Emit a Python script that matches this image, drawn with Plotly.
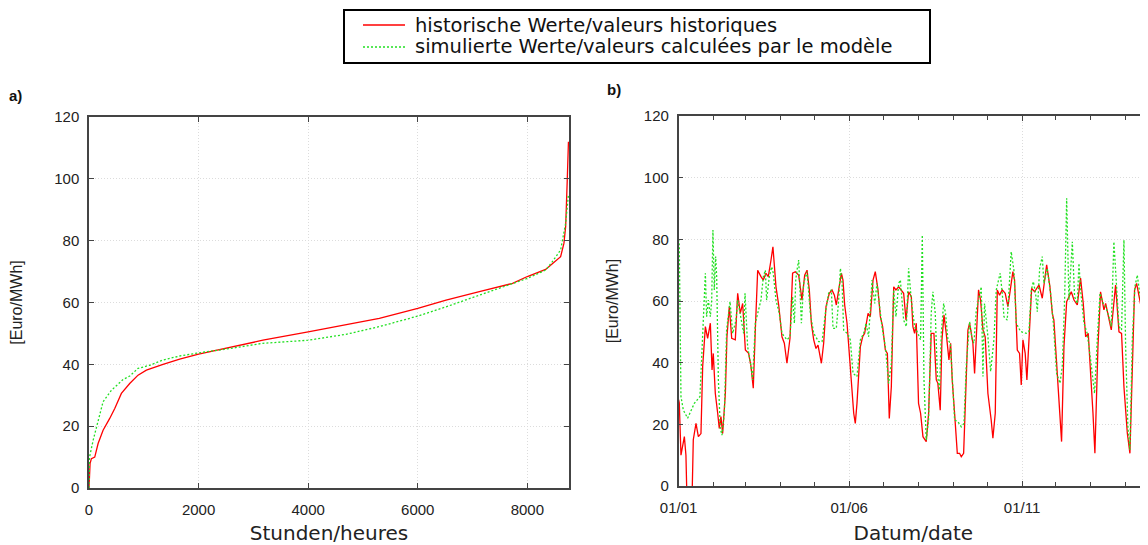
import pandas as pd
import plotly.graph_objects as go

# ---------------- data: panel a (price duration curve) ----------------
hours_hist = [0, 20, 44, 105, 166, 257, 378, 470, 591, 743, 895, 1047, 1351, 1655, 2000, 2566, 3174,
              4000, 4874, 5298, 6000, 6516, 7124, 7730, 8000, 8334, 8456, 8607, 8668, 8699, 8729, 8750]
price_hist = [0, 8, 9.5, 10, 14.4, 18.7, 22.5, 25.7, 30.6, 33.8, 36.5, 38.1, 40, 41.7, 43.3, 45.5, 47.8,
              50.5, 53.5, 54.9, 58.1, 60.8, 63.5, 66.2, 68.4, 70.7, 72.5, 74.8, 79.2, 84.6, 100, 112]
hours_sim = [0, 10, 75, 135, 257, 409, 622, 743, 895, 1108, 1351, 1655, 2000, 2566, 3174, 4000, 4690,
             5298, 6000, 6516, 7124, 7730, 8000, 8334, 8456, 8607, 8699, 8729, 8750]
price_sim = [0, 10, 15.4, 19.8, 27.9, 31.6, 35.1, 36.2, 38.7, 39.7, 41.4, 42.7, 43.7, 45.1, 46.8, 47.8, 49.7,
             52.2, 55.6, 58.6, 62.4, 66, 67.8, 70.5, 73.2, 77, 85.6, 91, 95]

# ---------------- data: panel b (time series, days after 01/01) ----------------
start_date = "2006-01-01"
days_hist = [0, 0.6, 2.1, 5.1, 6.5, 7.5, 11.8, 13.0, 15.4, 17.5, 19.8, 21.3, 23.7, 25.7, 28.1, 29.6, 30.7,
             32.5, 34.6, 36.0, 37.5, 39.0, 41.4, 42.8, 44.9, 47.0, 50.2, 52.3, 54.6, 56.7, 59.1, 62.0, 64.1,
             66.1, 67.9, 70.0, 72.9, 75.0, 77.3, 79.4, 81.8, 83.5, 86.2, 88.6, 91.5, 93.6, 95.9, 98.6, 100.9,
             103.3, 106.3, 109.2, 111.6, 113.7, 115.7, 117.5, 119.6, 121.6, 123.4, 126.4, 128.4, 130.5, 133.4,
             135.8, 137.9, 139.6, 141.7, 144.1, 145.5, 147.0, 149.1, 151.1, 152.9, 155.0, 156.4, 157.9, 160.9,
             162.9, 164.7, 167.7, 169.7, 172.1, 174.1, 176.5, 178.6, 180.6, 183.0, 184.8, 186.5, 188.3, 190.4,
             192.4, 194.8, 197.2, 199.2, 201.3, 203.6, 206.0, 207.4, 208.9, 210.4, 212.4, 214.2, 216.3, 219.2,
             221.3, 223.6, 226.0, 228.1, 229.5, 231.6, 233.1, 234.9, 236.9, 239.3, 240.8, 242.2, 244.3, 246.7,
             248.7, 250.2, 252.3, 254.6, 256.1, 257.6, 260.5, 262.0, 263.5, 265.5, 267.3, 269.4, 271.4, 273.8,
             276.7, 278.2, 280.3, 282.1, 284.1, 286.5, 289.1, 291.5, 293.6, 295.9, 297.4, 299.8, 301.8, 303.3,
             304.8, 306.8, 308.3, 310.1, 312.5, 315.1, 319.0, 321.9, 325.8, 328.7, 330.8, 332.2, 335.2, 337.3,
             339.0, 341.1, 343.5, 347.6, 350.0, 352.9, 355.8, 358.2, 360.3, 362.6, 364.7, 366.8, 368.5, 371.2,
             373.5, 376.5, 378.0, 380.9, 383.0, 386.8, 389.8, 392.1, 394.2, 397.2, 399.5, 401.6, 403.6, 405.4,
             407.5, 410.4, 413.4, 415.4]
value_hist = [28, 27, 10, 16, 10, -6, -6, 15, 20.3, 16, 17, 38.7, 51.7, 47.9, 52.8, 37.6, 43,
              30, 23.6, 18.7, 22.5, 17, 30, 48.4, 58.2, 47.9, 47.4, 62.5, 56, 59.2, 44.1, 43, 38.7,
              31.7, 50.6, 70, 67.9, 66.8, 69, 67.9, 73.3, 77.6, 64.6, 58.7, 48.4, 46.3, 39.8, 47.9, 69,
              69.5, 68.4, 60.3, 68.4, 70, 63.6, 52.8, 47.4, 44.6, 45.7, 39.8, 46.3, 58.2, 62.5,
              63.6, 61.9, 58.7, 63.6, 69, 66.8, 58.7, 52.8, 41.9, 34.4, 23.6, 20.3, 26.8, 45.2,
              48.4, 49.5, 56, 54.9, 66.8, 69.5, 63.6, 54.9, 51.7, 44.1, 43, 21.9, 32.2, 64.6,
              63.6, 64.6, 63.6, 62.5, 53.8, 63, 61.4, 51.7, 49.5, 52.8, 26.8, 23.6, 16, 14.4,
              23.6, 49.5, 49.5, 34.4, 33.3, 24.6, 47.4, 55.5, 49.5, 40.9, 46.3, 34.4, 23.6, 10.6,
              10.6, 9.5, 10.6, 36.5, 50.6, 52.8, 46.3, 36.5, 47.4, 63.6, 60.3, 50.6, 48.4, 30,
              21.4, 15.5, 23.6, 63.6, 61.9, 63.6, 62.5, 58.2, 63.6, 69.5, 66.8, 44.1, 43, 32.8,
              47.4, 43, 34.4, 49.5, 64.1, 63, 65.2, 60.9, 71.7, 64.6, 56, 53.8, 35.5, 23.6,
              14.4, 45.2, 59.8, 63, 60.3, 58.7, 67.4, 59.2, 48.4, 49.5, 37.6, 23.6, 10.6, 45.2,
              63, 57.1, 59.2, 53.8, 50.6, 65.2, 50, 49.5, 32.2, 17.1, 10.6, 37.6, 63.6, 65.7,
              61.9, 56, 50.6, 57.1]
days_sim = [0, 0.6, 2.1, 4.2, 8.0, 11.0, 13.9, 18.9, 21.3, 23.7, 24.8, 26.3, 28.1, 29.3, 30.4, 31.6, 32.8,
            33.7, 35.2, 36.9, 38.4, 40.5, 42.5, 45.5, 47.9, 50.8, 52.3, 55.2, 57.6, 58.8, 61.1, 64.1, 65.5,
            67.9, 70.9, 72.9, 75.0, 76.8, 77.9, 80.3, 82.4, 83.8, 86.2, 89.1, 91.5, 93.6, 95.9, 98.6, 100.9,
            102.5, 103.7, 104.8, 106.3, 108.7, 110.7, 113.7, 116.6, 119.6, 124.0, 127.0, 129.9, 132.8, 135.2,
            136.7, 139.6, 141.7, 143.2, 144.6, 146.1, 149.1, 152.0, 154.4, 157.9, 160.9, 163.8, 165.9, 168.2,
            171.2, 173.6, 175.6, 177.7, 180.0, 183.0, 185.9, 188.3, 190.4, 192.4, 194.8, 196.3, 199.2, 201.6,
            203.6, 206.0, 208.9, 211.8, 214.2, 215.7, 217.2, 219.2, 221.3, 223.6, 225.1, 227.2, 229.0, 231.0,
            232.5, 234.6, 236.3, 238.4, 240.5, 242.2, 244.3, 247.2, 250.2, 252.6, 254.6, 257.6, 259.9, 261.4,
            263.5, 265.5, 267.9, 269.4, 270.8, 273.8, 276.2, 279.1, 281.2, 283.2, 284.7, 286.5, 288.0, 290.9,
            293.0, 294.4, 296.8, 298.9, 302.7, 307.7, 310.1, 312.2, 314.0, 316.0, 317.5, 319.6, 321.9, 323.4,
            326.3, 329.3, 331.7, 334.6, 337.6, 339.6, 341.7, 343.5, 345.5, 347.0, 348.5, 350.5, 352.9, 354.4,
            355.8, 358.8, 361.7, 364.7, 368.2, 370.6, 373.0, 375.9, 378.0, 380.9, 383.0, 385.3, 387.7, 389.8,
            392.1, 394.2, 395.7, 397.7, 399.5, 401.6, 403.9, 406.0, 408.4, 411.3, 414.3, 415.5]
value_sim = [80, 78.2, 29, 24.6, 22, 24.6, 26.8, 29, 48.4, 69, 54.9, 60.3, 54.9, 60.3, 83, 63.6, 74.4,
             67.9, 34.4, 18.7, 16.5, 23.6, 50.6, 59.8, 49.5, 53.8, 60.3, 54.9, 49.5, 62.5, 45.2, 38.7, 34.4,
             52.8, 57.1, 60.3, 67.9, 70, 60.3, 67.9, 71.1, 69, 60.3, 56, 49.5, 48.4, 47.4, 48.4, 61.4,
             52.8, 66.8, 70, 73.3, 52.8, 65.7, 69.5, 56, 49.5, 46.8, 46.8, 56, 62.5, 63.6,
             51.1, 51.1, 60.3, 70.6, 66.8, 50.6, 49.5, 47.4, 36.5, 35.5, 47.4, 49.5, 52.8, 48.4,
             66.8, 59.2, 65.7, 58.2, 51.7, 45.2, 33.3, 39.8, 63.6, 54.9, 65.7, 66.8, 53.8, 51.7,
             70.6, 60.3, 51.7, 49.5, 47.4, 81.4, 34.4, 14.9, 21.4, 56, 63, 56, 36.5, 31.1,
             49.5, 59.2, 56, 47.4, 46.3, 35.5, 21.4, 20.9, 19.2, 20.3, 38.7, 53.3, 47.4, 46.3,
             57.1, 60.3, 64.6, 35.5, 59.2, 48.4, 37.1, 47.4, 63.6, 66.8, 69, 62.5, 54.9, 53.8,
             70, 76, 70, 52.8, 50.1, 49.5, 50.1, 63.6, 66.3, 62.5, 56.5, 70.6, 74.4, 65.7,
             70.6, 62.5, 52.8, 36.5, 33.3, 38.7, 60.3, 93.3, 60.3, 69, 79.2, 61.4, 59.2, 72.2,
             63.6, 52.8, 49.5, 40.9, 30, 47.4, 62.5, 59.2, 58.2, 54.9, 51.7, 79.2, 63.6, 51.7,
             50.6, 79.8, 45.2, 19.2, 11.7, 47.4, 64.6, 68.4, 61.9, 54.9, 49.5, 48]
visible_days = 415.5

hour_ticks = [0, 2000, 4000, 6000, 8000]
price_ticks = [0, 20, 40, 60, 80, 100, 120]

legend_hist = "historische Werte/valeurs historiques"
legend_sim = "simulierte Werte/valeurs calculées par le modèle"

# ---------------- figure geometry ----------------
# the page adds an 8px body margin, so the figure is shifted by OFF
OFF = 8
W, H = 1148 - OFF, 545 - OFF


def fx(px):
    return (px - OFF) / W


def fy(py):
    return 1 - (py - OFF) / H


RED = "#ff0000"
GREEN = "#22e022"
DOT = "2px,2px"
start = pd.Timestamp(start_date)
dates_hist = start + pd.to_timedelta(days_hist, unit="D")
dates_sim = start + pd.to_timedelta(days_sim, unit="D")
end = start + pd.to_timedelta(visible_days, unit="D")

fig = go.Figure()
fig.add_trace(go.Scatter(x=hours_hist, y=price_hist, mode="lines", name=legend_hist, showlegend=False,
                         line=dict(color=RED, width=1.3), xaxis="x", yaxis="y"))
fig.add_trace(go.Scatter(x=hours_sim, y=price_sim, mode="lines", name=legend_sim, showlegend=False,
                         line=dict(color=GREEN, width=1.3, dash=DOT), xaxis="x", yaxis="y"))
fig.add_trace(go.Scatter(x=dates_hist, y=value_hist, mode="lines", name=legend_hist, showlegend=False,
                         line=dict(color=RED, width=1.3), xaxis="x2", yaxis="y2"))
fig.add_trace(go.Scatter(x=dates_sim, y=value_sim, mode="lines", name=legend_sim, showlegend=False,
                         line=dict(color=GREEN, width=1.3, dash=DOT), xaxis="x2", yaxis="y2"))

tickfont = dict(family="Liberation Sans, Arial, sans-serif", size=15, color="#222")
titlefont = dict(family="DejaVu Sans, sans-serif", size=20, color="#222")
ytitlefont = dict(family="Liberation Sans, Arial, sans-serif", size=16, color="#222")
common = dict(showline=True, linecolor="#444", linewidth=1.5, mirror="allticks",
              ticks="inside", ticklen=5, tickcolor="#444", showgrid=True,
              gridcolor="#dcdcdc", griddash="1px,2px", gridwidth=1, zeroline=False,
              tickfont=tickfont, automargin=False)

# hand-drawn legend box (matches the compact reference legend)
legend_font = dict(family="DejaVu Sans, sans-serif", size=19.5, color="#111")
shapes = [
    dict(type="rect", xref="paper", yref="paper", x0=fx(344), x1=fx(930), y0=fy(10), y1=fy(63),
         line=dict(color="black", width=2), fillcolor="white", layer="above"),
    dict(type="line", xref="paper", yref="paper", x0=fx(363), x1=fx(405), y0=fy(25), y1=fy(25),
         line=dict(color=RED, width=1.3)),
    dict(type="line", xref="paper", yref="paper", x0=fx(363), x1=fx(405), y0=fy(47), y1=fy(47),
         line=dict(color=GREEN, width=1.3, dash=DOT)),
]

annotations = [
    dict(text=legend_hist, x=fx(413), y=fy(25), xref="paper", yref="paper", xanchor="left",
         yanchor="middle", showarrow=False, font=legend_font),
    dict(text=legend_sim, x=fx(413), y=fy(47), xref="paper", yref="paper", xanchor="left",
         yanchor="middle", showarrow=False, font=legend_font),
    dict(text="<b>a)</b>", x=fx(7), y=fy(95), xref="paper", yref="paper",
         xanchor="left", yanchor="middle", showarrow=False,
         font=dict(family="Liberation Sans, Arial, sans-serif", size=15, color="#111")),
    dict(text="<b>b)</b>", x=fx(605), y=fy(89), xref="paper", yref="paper",
         xanchor="left", yanchor="middle", showarrow=False,
         font=dict(family="Liberation Sans, Arial, sans-serif", size=15, color="#111")),
]

fig.update_layout(
    width=W, height=H,
    margin=dict(l=0, r=0, t=0, b=0),
    paper_bgcolor="white", plot_bgcolor="white",
    showlegend=False,
    xaxis=dict(domain=[fx(89), fx(569)], range=[0, 8760], tickvals=hour_ticks, ticklabelstandoff=7,
               title=dict(text="Stunden/heures", font=titlefont, standoff=9), **common),
    yaxis=dict(domain=[fy(488), fy(117)], range=[0, 120], tickvals=price_ticks, ticklabelstandoff=5,
               title=dict(text="[Euro/MWh]", font=ytitlefont, standoff=33), **common),
    xaxis2=dict(domain=[fx(678.6), 1.0], range=[start, end], type="date", ticklabelstandoff=7,
                tick0=start_date, dtick="M5", tickformat="%d/%m",
                minor=dict(dtick="M1", ticks="inside", ticklen=4, tickcolor="#444", showgrid=False),
                title=dict(text="Datum/date", font=titlefont, standoff=11), anchor="y2", **common),
    yaxis2=dict(domain=[fy(486), fy(116)], range=[0, 120], tickvals=price_ticks, ticklabelstandoff=5,
                title=dict(text="[Euro/MWh]", font=ytitlefont, standoff=21), anchor="x2", **common),
    shapes=shapes,
    annotations=annotations,
)

fig.write_html("out.html")
